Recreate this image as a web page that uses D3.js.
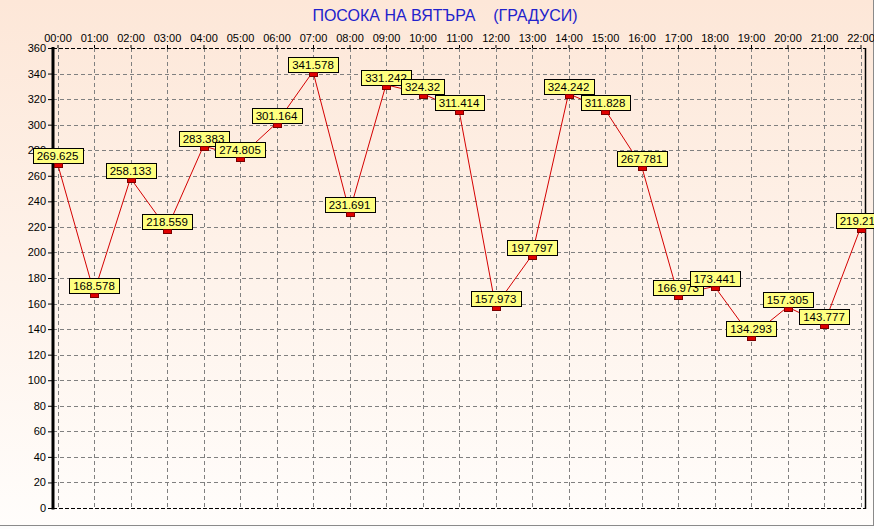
<!DOCTYPE html>
<html>
<head>
<meta charset="utf-8">
<script src="https://cdn.jsdelivr.net/npm/d3@7/dist/d3.min.js"></script>
<style>
  html, body { margin: 0; padding: 0; background: #ffffff; }
  svg { display: block; font-family: "Liberation Sans", Arial, sans-serif; }
</style>
</head>
<body>
<svg id="chart" width="874" height="529"></svg>
<script>
// Wind direction (degrees), hourly readings
const hours = ["00:00","01:00","02:00","03:00","04:00","05:00","06:00","07:00","08:00","09:00","10:00","11:00",
               "12:00","13:00","14:00","15:00","16:00","17:00","18:00","19:00","20:00","21:00","22:00"];
const direction = [269.625, 168.578, 258.133, 218.559, 283.383, 274.805, 301.164, 341.578, 231.691, 331.242, 324.32, 311.414,
                   157.973, 197.797, 324.242, 311.828, 267.781, 166.973, 173.441, 134.293, 157.305, 143.777, 219.215];
const yTicks = [0, 20, 40, 60, 80, 100, 120, 140, 160, 180, 200, 220, 240, 260, 280, 300, 320, 340, 360];
const title = "ПОСОКА НА ВЯТЪРА    (ГРАДУСИ)";

const W = 874, H = 529;
const plot = { left: 53, right: 866, top: 48, bottom: 508 };

const svg = d3.select("#chart");

// warm background fading to white
const defs = svg.append("defs");
const grad = defs.append("linearGradient").attr("id", "bg").attr("x1", 0).attr("y1", 0).attr("x2", 0).attr("y2", 1);
grad.append("stop").attr("offset", "0%").attr("stop-color", "#fde7d8");
grad.append("stop").attr("offset", "100%").attr("stop-color", "#fffdfb");
svg.append("rect").attr("x", 0).attr("y", 0).attr("width", W).attr("height", 526).attr("fill", "url(#bg)");
svg.append("rect").attr("x", 0).attr("y", 526).attr("width", W).attr("height", 3).attr("fill", "#fcfcfc");
// outer frame lines
svg.append("line").attr("x1", 0).attr("x2", W).attr("y1", 525.5).attr("y2", 525.5).attr("stroke", "#8a8a8a").attr("stroke-width", 1);
svg.append("line").attr("x1", 873.5).attr("x2", 873.5).attr("y1", 0).attr("y2", 526).attr("stroke", "#8a8a8a").attr("stroke-width", 1);

const x = d3.scalePoint().domain(hours).range([57.5, 860.5]);
const y = d3.scaleLinear().domain([0, 360]).range([plot.bottom, plot.top]);

// title
svg.append("text")
  .attr("x", 445).attr("y", 21)
  .attr("text-anchor", "middle")
  .attr("fill", "#2222cc")
  .attr("font-size", 16)
  .style("white-space", "pre")
  .attr("xml:space", "preserve")
  .text(title);

// grid
const grid = svg.append("g").attr("stroke", "#808080").attr("stroke-width", 1).attr("stroke-dasharray", "4,3");
grid.selectAll("line.v").data(hours).join("line")
  .attr("class", "v")
  .attr("x1", d => Math.round(x(d)) + 0.5).attr("x2", d => Math.round(x(d)) + 0.5)
  .attr("y1", plot.top).attr("y2", plot.bottom);
grid.selectAll("line.h").data(yTicks.filter(v => v > 0 && v < 360)).join("line")
  .attr("class", "h")
  .attr("x1", plot.left).attr("x2", plot.right)
  .attr("y1", d => Math.round(y(d)) + 0.5).attr("y2", d => Math.round(y(d)) + 0.5);

// plot frame: dashed top and bottom, solid right
svg.append("line").attr("x1", plot.left).attr("x2", plot.right).attr("y1", plot.top + 0.5).attr("y2", plot.top + 0.5)
  .attr("stroke", "#000").attr("stroke-dasharray", "4,2");
svg.append("line").attr("x1", plot.left).attr("x2", plot.right).attr("y1", plot.bottom + 0.5).attr("y2", plot.bottom + 0.5)
  .attr("stroke", "#000").attr("stroke-dasharray", "4,2");
svg.append("line").attr("x1", plot.right - 0.5).attr("x2", plot.right - 0.5).attr("y1", plot.top).attr("y2", plot.bottom + 1)
  .attr("stroke", "#000").attr("stroke-width", 1.5);

// left value axis
const yAxis = svg.append("g").attr("transform", `translate(${plot.left},0)`)
  .call(d3.axisLeft(y).tickValues(yTicks).tickSize(5).tickPadding(2).tickFormat(d3.format("d")));
yAxis.select(".domain").remove();
yAxis.selectAll(".tick line").attr("stroke", "#000");
yAxis.selectAll(".tick text").attr("font-size", 11).attr("fill", "#000")
  .attr("font-family", "'Liberation Sans', Arial, sans-serif");
svg.append("line").attr("x1", plot.left).attr("x2", plot.left).attr("y1", plot.top - 1).attr("y2", plot.bottom + 1.5)
  .attr("stroke", "#000").attr("stroke-width", 3);

// top hour axis
const xAxis = svg.append("g").attr("transform", `translate(0,${plot.top})`)
  .call(d3.axisTop(x).tickSize(3).tickPadding(3));
xAxis.select(".domain").remove();
xAxis.selectAll(".tick line").attr("stroke", "#000");
xAxis.selectAll(".tick text").attr("font-size", 11).attr("fill", "#000")
  .attr("font-family", "'Liberation Sans', Arial, sans-serif");

// series line
const pts = hours.map((h, i) => ({ h, v: direction[i] }));
svg.append("path")
  .datum(pts)
  .attr("fill", "none")
  .attr("stroke", "#d40000")
  .attr("stroke-width", 1)
  .attr("d", d3.line().x(d => x(d.h)).y(d => y(d.v)));

// value labels
const labels = svg.append("g");
pts.forEach(d => {
  const g = labels.append("g");
  const t = g.append("text")
    .attr("x", x(d.h)).attr("y", y(d.v) - 3)
    .attr("text-anchor", "middle")
    .attr("font-size", 11.5)
    .attr("fill", "#000")
    .text(String(d.v));
  const w = t.node().getComputedTextLength() + 8;
  g.insert("rect", "text")
    .attr("x", Math.round(x(d.h) - w / 2) + 0.5)
    .attr("y", Math.round(y(d.v)) - 14.5)
    .attr("width", Math.round(w))
    .attr("height", 15)
    .attr("fill", "#ffff80")
    .attr("stroke", "#000")
    .attr("stroke-width", 1);
});

// point markers
svg.append("g").selectAll("rect").data(pts).join("rect")
  .attr("x", d => Math.round(x(d.h)) - 4 + 0.5)
  .attr("y", d => Math.round(y(d.v)) + 0.5)
  .attr("width", 8)
  .attr("height", 4)
  .attr("fill", "#e00000")
  .attr("stroke", "#7a0000")
  .attr("stroke-width", 1);
</script>
</body>
</html>
